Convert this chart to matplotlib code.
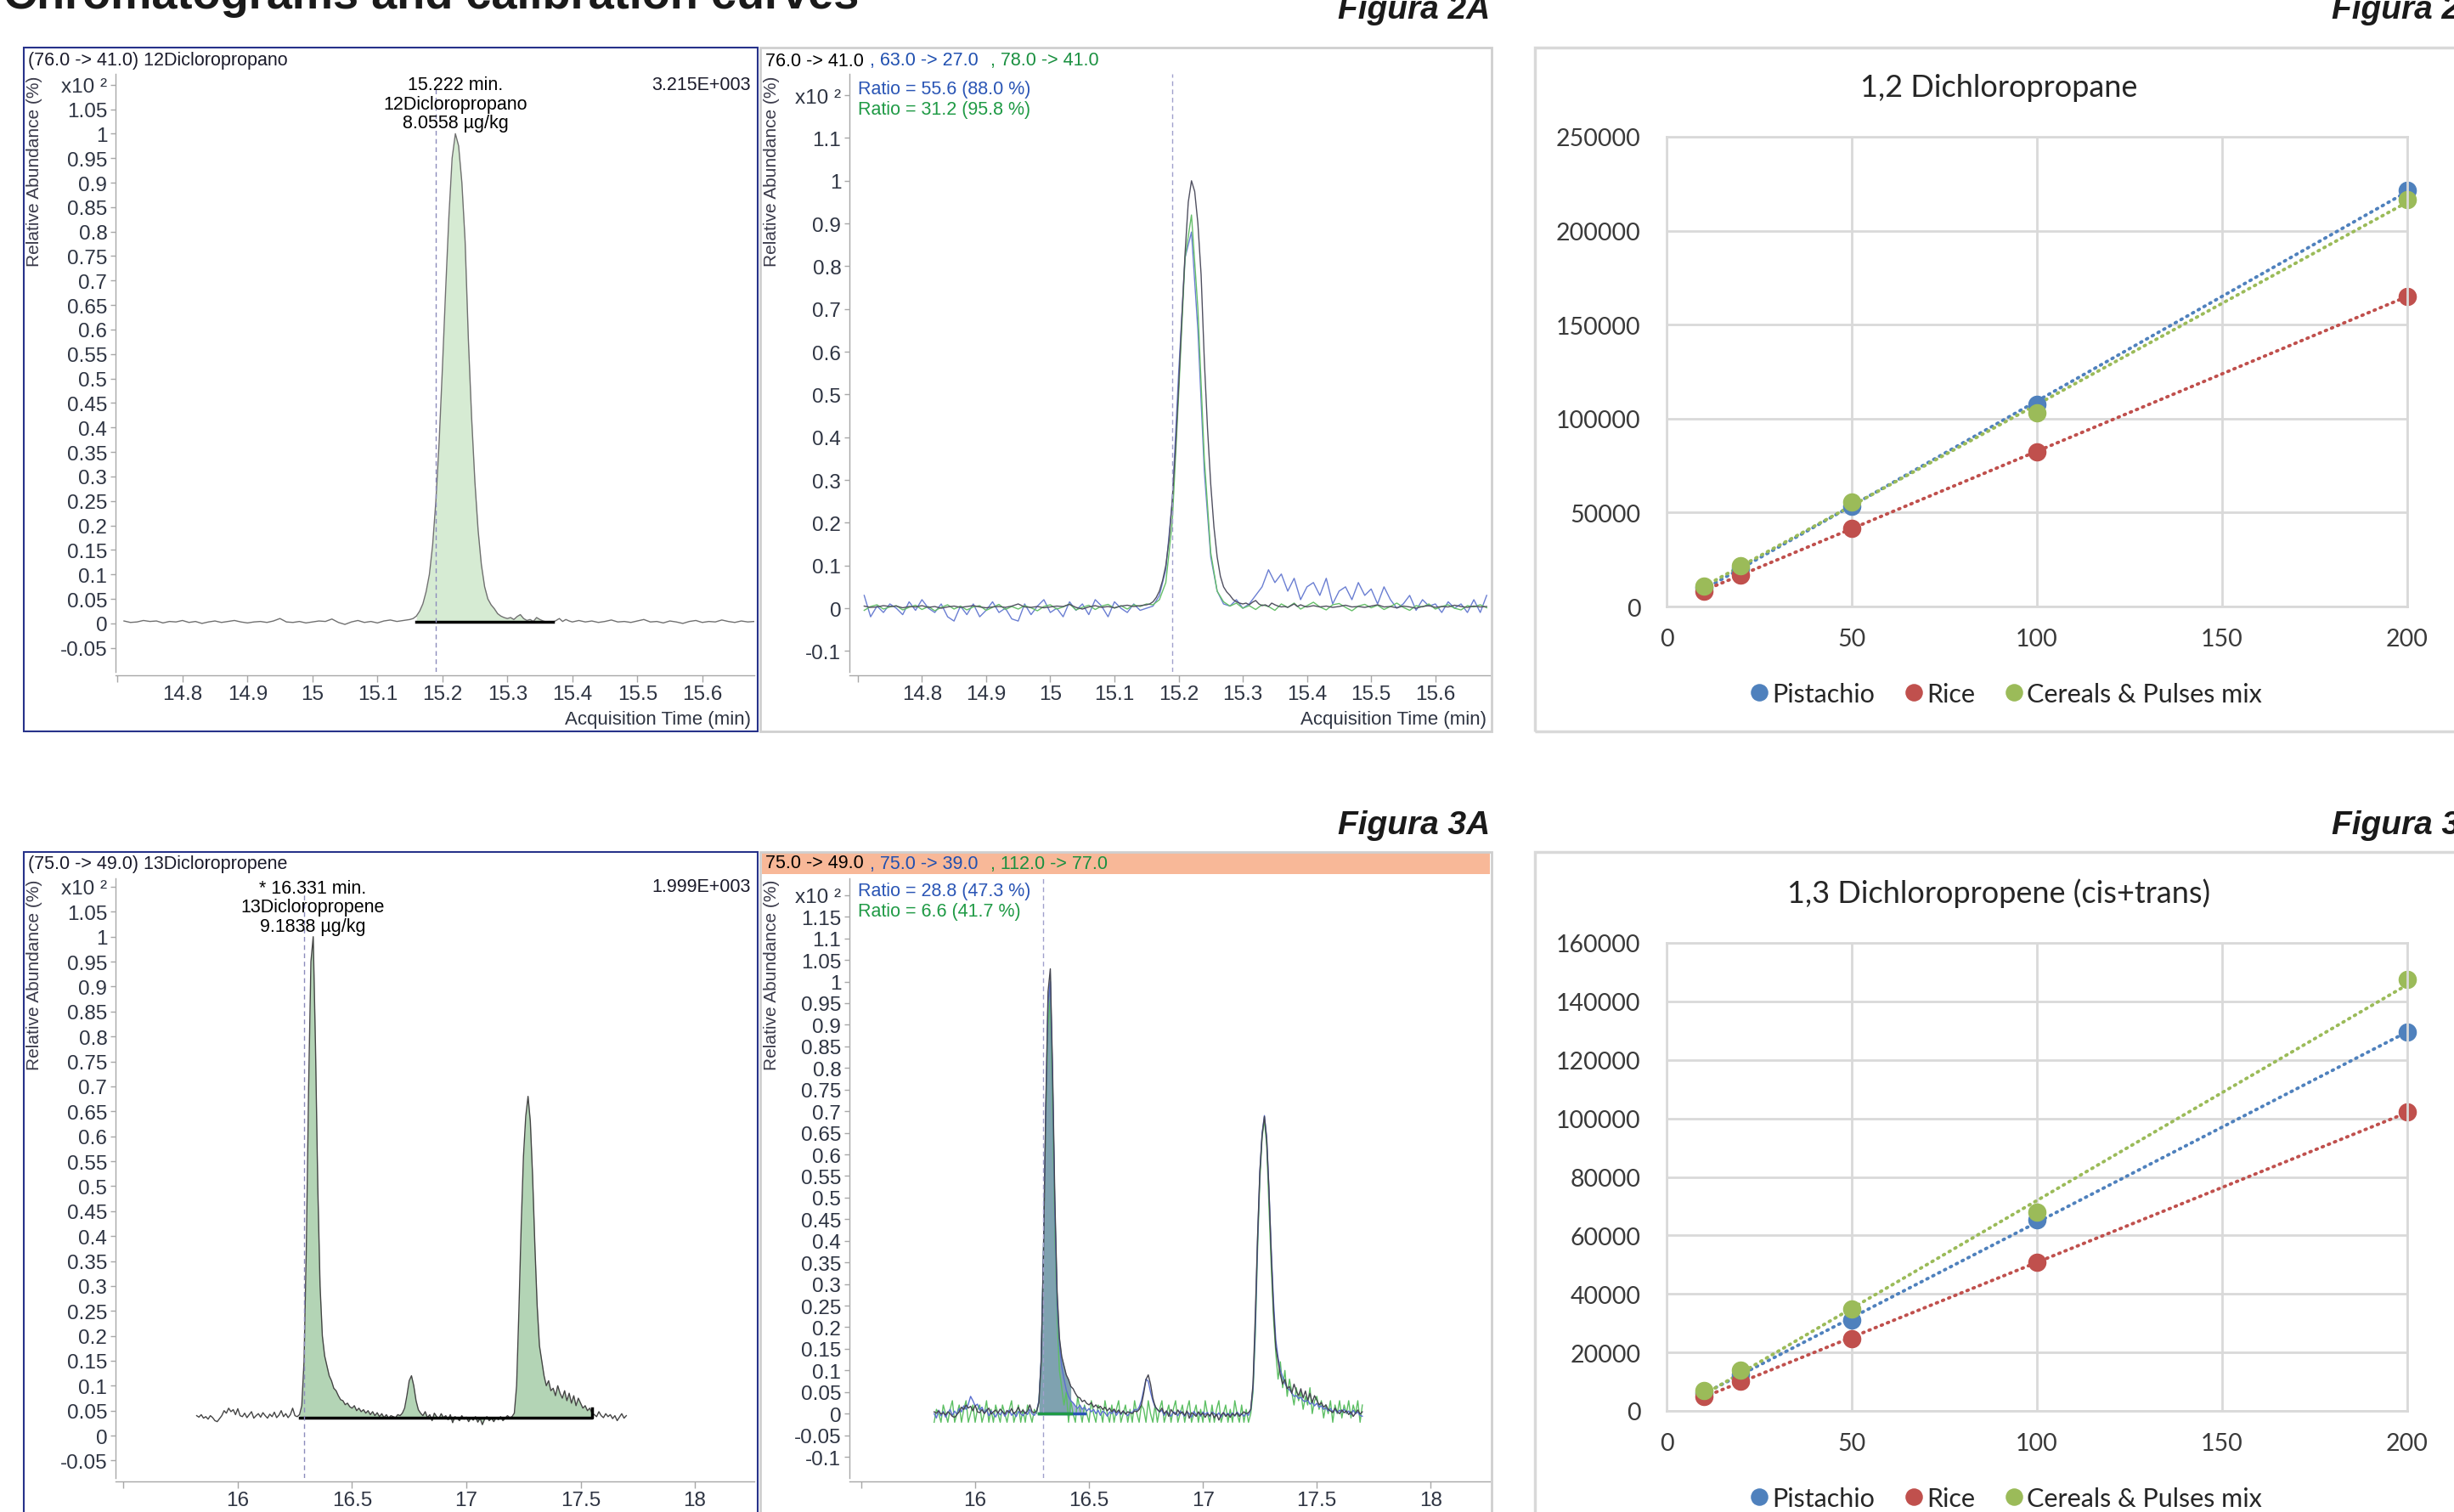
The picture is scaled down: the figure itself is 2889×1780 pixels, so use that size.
import numpy as np
import matplotlib
matplotlib.use("Agg")
import matplotlib.pyplot as plt
from matplotlib.patches import Rectangle

W, H = 2889, 1781
NARROW = ['Liberation Sans Narrow', 'Liberation Sans', 'DejaVu Sans']
CALI = ['Lato', 'DejaVu Sans']

# ---- calibration curves (area vs concentration, ug/kg) ----
conc = [10, 20, 50, 100, 200]
dcp12_pistachio = [10000, 20500, 53300, 107500, 221700]
dcp12_rice = [8300, 16700, 41700, 82500, 165000]
dcp12_cereals = [10800, 21700, 55800, 103300, 216700]
dcp13_pistachio = [6000, 12500, 31000, 65200, 129400]
dcp13_rice = [4800, 10200, 24600, 50800, 102100]
dcp13_cereals = [6950, 13900, 34800, 67900, 147600]
series_names = ['Pistachio', 'Rice', 'Cereals & Pulses mix']
series_colors = ['#4F81BD', '#C0504D', '#9BBB59']

# ---- chromatogram 2A: 1,2-dichloropropane (x10^2 relative abundance) ----
q2a_pre = [0.005, 0.002, 0.003, 0.006, 0.004, 0.005, 0.001, 0.004, 0.003, 0.006,
           0.002, 0.004, 0.000, 0.003, 0.005, 0.002, 0.004, 0.006, 0.003, 0.001,
           0.003, 0.004, 0.002, 0.005, 0.010, 0.003, 0.002, 0.004, 0.001, 0.003,
           0.005, 0.004, 0.009, 0.002, -0.002, 0.003, 0.006, 0.002, 0.004, 0.001,
           0.005, 0.007, 0.004, 0.006, 0.008]            # 14.71 - 15.15
q2a_peak = [0.010, 0.015, 0.025, 0.040, 0.065, 0.100, 0.160, 0.250, 0.370, 0.520,
            0.680, 0.830, 0.950, 1.000, 0.975, 0.900, 0.780, 0.580, 0.420, 0.290,
            0.190, 0.120, 0.075, 0.050, 0.038, 0.030, 0.020, 0.015, 0.012, 0.010,
            0.012, 0.008, 0.014, 0.018, 0.010, 0.006, 0.008, 0.004, 0.012, 0.008,
            0.005, 0.003, 0.004, 0.002, 0.006, 0.010, 0.004, 0.008, 0.005, 0.003]  # 15.155 - 15.400
q2a_post = [0.006, 0.003, 0.005, 0.002, 0.004, 0.007, 0.003, 0.004, 0.002, 0.005,
            0.008, 0.003, 0.004, 0.001, 0.005, 0.003, 0.000, 0.004, 0.006, 0.002,
            0.004, 0.003, 0.007, 0.004, 0.002, 0.005, 0.003, 0.004]  # 15.41 - 15.68
green2a = [-0.005, 0.004, 0.008, -0.002, 0.003, 0.006, -0.004, 0.002, 0.007, -0.003,
           0.004, -0.006, 0.002, 0.008, -0.002, 0.005, -0.004, 0.003, 0.006, -0.005,
           0.002, 0.009, -0.003, 0.004, -0.002, 0.006, 0.001, -0.006, 0.004, 0.008,
           -0.002, 0.003, 0.010, -0.004, 0.002, 0.007, -0.003, 0.005, 0.009, 0.000,
           0.006, -0.002, 0.008, 0.004, 0.010,
           0.008, 0.020, 0.060, 0.200, 0.500, 0.820, 0.920, 0.700, 0.350, 0.130,
           0.040, 0.015, 0.005, 0.012, 0.000,
           0.006, -0.003, 0.008, 0.004, -0.005, 0.010, 0.002, 0.012, -0.002, 0.006,
           0.014, 0.003, -0.004, 0.008, 0.011, 0.002, -0.006, 0.005, 0.009, 0.001,
           0.007, -0.003, 0.004, 0.012, 0.002, -0.005, 0.006, 0.003, 0.010, -0.002,
           0.004, 0.008, 0.000, -0.004, 0.006, 0.003, 0.008, 0.001]  # 14.71 - 15.68
blue2a = [0.030, -0.020, 0.005, -0.010, 0.010, 0.000, -0.015, 0.015, -0.005, 0.020,
          0.000, -0.010, 0.010, -0.020, -0.030, 0.005, -0.015, 0.010, -0.020, -0.005,
          0.015, -0.010, 0.000, -0.025, -0.030, 0.010, -0.015, 0.005, 0.020, -0.010,
          0.000, -0.020, 0.015, -0.005, 0.010, -0.015, 0.020, 0.005, -0.020, 0.015,
          0.000, -0.010, 0.010, -0.005, 0.000,
          0.005, 0.030, 0.090, 0.250, 0.550, 0.820, 0.880, 0.650, 0.320, 0.120,
          0.040, 0.010, 0.005, 0.020, 0.000,
          0.010, 0.030, 0.050, 0.090, 0.060, 0.080, 0.040, 0.070, 0.020, 0.050,
          0.060, 0.030, 0.070, 0.010, 0.040, 0.050, 0.020, 0.060, 0.030, 0.045,
          0.010, 0.050, 0.020, 0.000, 0.010, 0.030, -0.005, 0.020, 0.005, 0.010,
          -0.010, 0.015, 0.000, 0.010, -0.010, 0.020, -0.010, 0.030]  # 14.71 - 15.68

# ---- chromatogram 3A: 1,3-dichloropropene, 15.82 - 17.70 min every 0.01 ----
q3a = [0.040, 0.037, 0.042, 0.035, 0.038, 0.033, 0.040, 0.036, 0.030, 0.028,
       0.034, 0.040, 0.050, 0.045, 0.055, 0.048, 0.052, 0.042, 0.054, 0.040,
       0.038, 0.045, 0.036, 0.042, 0.048, 0.035, 0.040, 0.044, 0.037, 0.046,
       0.040, 0.035, 0.043, 0.038, 0.047, 0.036, 0.041, 0.050, 0.038, 0.044,
       0.036, 0.042, 0.055, 0.040, 0.038, 0.042, 0.060, 0.150, 0.380, 0.700,
       0.950, 1.000, 0.780, 0.500, 0.300, 0.200, 0.160, 0.140, 0.120, 0.110,
       0.095, 0.090, 0.080, 0.072, 0.070, 0.062, 0.065, 0.058, 0.055, 0.060,
       0.050, 0.055, 0.048, 0.052, 0.045, 0.050, 0.042, 0.048, 0.040, 0.046,
       0.038, 0.044, 0.036, 0.042, 0.035, 0.040, 0.038, 0.036, 0.042, 0.040,
       0.045, 0.055, 0.080, 0.110, 0.120, 0.100, 0.070, 0.052, 0.045, 0.040,
       0.048, 0.036, 0.042, 0.030, 0.045, 0.038, 0.034, 0.044, 0.036, 0.040,
       0.032, 0.042, 0.026, 0.038, 0.035, 0.030, 0.040, 0.033, 0.037, 0.028,
       0.036, 0.031, 0.038, 0.027, 0.035, 0.022, 0.033, 0.038, 0.030, 0.035,
       0.028, 0.036, 0.032, 0.038, 0.030, 0.035, 0.040, 0.036, 0.038, 0.045,
       0.100, 0.250, 0.420, 0.560, 0.640, 0.680, 0.630, 0.520, 0.380, 0.260,
       0.180, 0.150, 0.120, 0.100, 0.110, 0.090, 0.095, 0.080, 0.100, 0.085,
       0.075, 0.090, 0.070, 0.085, 0.065, 0.080, 0.060, 0.075, 0.065, 0.055,
       0.060, 0.050, 0.055, 0.045, 0.042, 0.038, 0.048, 0.040, 0.036, 0.044,
       0.038, 0.042, 0.034, 0.040, 0.030, 0.037, 0.044, 0.035, 0.040]
blue3a = [0.000, -0.010, 0.008, -0.005, 0.005, -0.008, 0.002, 0.010, -0.004, 0.006,
          -0.002, 0.012, 0.004, 0.018, 0.010, 0.022, 0.040, 0.030, 0.018, 0.022,
          0.008, 0.015, 0.002, 0.010, -0.005, 0.006, 0.000, -0.008, 0.004, -0.003,
          0.006, -0.006, 0.002, 0.008, -0.004, 0.003, -0.007, 0.005, 0.000, -0.005,
          0.004, -0.002, 0.010, 0.000, -0.004, 0.006, 0.030, 0.130, 0.380, 0.700,
          0.950, 1.000, 0.760, 0.460, 0.250, 0.160, 0.110, 0.080, 0.055, 0.040,
          0.030, 0.025, 0.018, 0.012, 0.020, 0.010, 0.015, 0.006, 0.012, 0.004,
          0.010, 0.000, 0.008, -0.004, 0.006, 0.002, -0.006, 0.004, 0.000, 0.008,
          -0.004, 0.005, -0.002, 0.006, 0.000, -0.005, 0.004, 0.002, 0.010, 0.008,
          0.015, 0.030, 0.055, 0.080, 0.075, 0.050, 0.030, 0.015, 0.010, 0.004,
          0.008, -0.004, 0.006, 0.000, -0.006, 0.004, 0.002, -0.005, 0.006, 0.000,
          -0.006, 0.004, 0.000, -0.008, 0.005, -0.003, 0.002, -0.006, 0.004, -0.002,
          0.003, -0.007, 0.004, 0.000, -0.005, 0.002, -0.008, 0.003, -0.004, 0.001,
          -0.005, 0.002, -0.006, 0.004, -0.003, 0.000, -0.006, 0.002, -0.004, 0.010,
          0.060, 0.200, 0.400, 0.560, 0.650, 0.690, 0.640, 0.520, 0.380, 0.260,
          0.170, 0.130, 0.100, 0.085, 0.070, 0.060, 0.055, 0.048, 0.040, 0.042,
          0.035, 0.038, 0.030, 0.028, 0.032, 0.022, 0.026, 0.018, 0.024, 0.015,
          0.018, 0.010, 0.014, 0.006, 0.012, 0.004, 0.010, 0.002, 0.008, 0.004,
          0.010, 0.002, 0.006, -0.002, 0.008, 0.000, 0.004, -0.004, -0.006]
green3a = [-0.020, 0.010, 0.000, -0.020, 0.020, 0.000, -0.020, 0.010, 0.030, -0.020,
           0.000, 0.020, -0.020, 0.010, 0.030, -0.020, 0.000, 0.020, -0.020, 0.010,
           0.020, -0.020, 0.000, 0.030, -0.020, 0.010, -0.020, 0.020, 0.000, -0.020,
           0.020, 0.000, -0.020, 0.010, 0.030, -0.020, 0.000, 0.020, -0.020, 0.010,
           -0.020, 0.020, 0.000, -0.020, 0.010, 0.000, 0.030, 0.120, 0.380, 0.680,
           0.900, 0.960, 0.700, 0.420, 0.220, 0.100, 0.060, 0.020, 0.050, -0.020,
           0.030, 0.000, -0.020, 0.040, 0.010, -0.020, 0.020, 0.000, -0.020, 0.030,
           0.000, -0.020, 0.020, 0.010, -0.020, 0.030, 0.000, -0.020, 0.020, -0.020,
           0.010, 0.030, -0.020, 0.000, 0.020, -0.020, 0.010, -0.020, 0.030, 0.000,
           -0.020, 0.020, 0.010, -0.020, 0.030, 0.000, -0.020, 0.020, -0.020, 0.010,
           0.030, -0.020, 0.000, 0.020, -0.020, 0.010, 0.030, -0.020, 0.000, 0.020,
           -0.020, 0.010, 0.030, -0.020, 0.000, 0.020, -0.020, 0.010, -0.020, 0.030,
           0.000, -0.020, 0.020, -0.020, 0.010, 0.030, -0.020, 0.000, 0.020, -0.020,
           0.010, -0.020, 0.030, 0.000, -0.020, 0.020, -0.020, 0.010, -0.020, 0.000,
           0.050, 0.180, 0.380, 0.540, 0.640, 0.680, 0.620, 0.480, 0.340, 0.220,
           0.140, 0.080, 0.120, 0.060, 0.100, 0.040, 0.080, 0.050, 0.020, 0.060,
           0.030, 0.050, 0.010, 0.040, 0.020, 0.060, 0.000, 0.030, 0.040, 0.010,
           0.030, -0.010, 0.020, 0.000, 0.030, -0.020, 0.020, 0.000, 0.030, -0.010,
           0.020, 0.000, 0.030, -0.010, 0.020, 0.000, 0.030, -0.020, 0.020]
q3a_baseline = 0.036      # integration baseline of the quantifier trace
q3a_norm = 1.068          # renormalisation used in the qualifier overlay

t2a = np.concatenate([np.arange(1471, 1516) / 100, np.arange(15155, 15401, 5) / 1000,
                      np.arange(1541, 1569) / 100])
q2a = np.array(q2a_pre + q2a_peak + q2a_post)
t2a_q = np.arange(1471, 1569) / 100
t3a = np.arange(1582, 1771) / 100
q3a = np.array(q3a)

fig = plt.figure(figsize=(W / 100, H / 100), dpi=100)

TXT = 15.5   # chromatogram annotation size


def fbox(x0, y0, x1, y1):
    return [x0 / W, 1 - y1 / H, (x1 - x0) / W, (y1 - y0) / H]


def ftext(x, y, s, **kw):
    kw.setdefault('family', NARROW)
    return fig.text(x / W, 1 - y / H, s, **kw)


def frame(x0, y0, x1, y1, color, lw, face='none'):
    fig.add_artist(Rectangle((x0 / W, 1 - y1 / H), (x1 - x0) / W, (y1 - y0) / H,
                             transform=fig.transFigure, fc=face, ec=color, lw=lw))


def chrom_axes(box, xlim, ylim, yticks, top_tick, xticks):
    ax = fig.add_axes(fbox(*box))
    ax.patch.set_alpha(0)
    ax.set_xlim(xlim)
    ax.set_ylim(ylim)
    for s in ['top', 'right']:
        ax.spines[s].set_visible(False)
    for s in ['left', 'bottom']:
        ax.spines[s].set_color('#a8a8a8')
        ax.spines[s].set_linewidth(1.0)
    ax.spines['bottom'].set_position(('outward', 3))
    ax.set_yticks(list(yticks) + [top_tick], [f'{v:g}' for v in yticks] + ['x10 ²'])
    ax.set_xticks(xticks, [''] + [f'{v:g}' for v in xticks[1:]])
    ax.tick_params(colors='#a8a8a8', labelcolor='#2e3442', labelsize=17.5, length=4, width=1)
    ax.tick_params(axis='x', length=6, pad=2)
    ax.tick_params(axis='y', pad=3)
    for lab in ax.get_xticklabels() + ax.get_yticklabels():
        lab.set_family(NARROW)
    return ax


def ylabel(x, y_top):
    ftext(x, y_top, 'Relative Abundance (%)', size=15, rotation=90, va='top', ha='center',
          color='#3a3a4a')


# ---- page titles ----
ftext(4, 10, 'Chromatograms and calibration curves', family=['Liberation Sans', 'DejaVu Sans'],
      weight='bold', size=39, va='baseline', color='#1a1a1a')
for y, lab in [(22, 'Figura 2A'), (982, 'Figura 3A')]:
    ftext(1754, y, lab, weight='bold', style='italic', size=28, ha='right', va='baseline', color='#1a1a1a')
for y, lab in [(22, 'Figura 2B'), (982, 'Figura 3B')]:
    ftext(2745, y, lab, weight='bold', style='italic', size=28, ha='left', va='baseline', color='#1a1a1a')

# ---- panel frames ----
frame(28, 57, 892, 862, '#27328a', 1.5)
frame(895, 57, 1756, 862, '#cfcfcf', 2)
frame(28, 1004, 892, 1810, '#27328a', 1.5)
frame(897, 1005, 1754, 1030, 'none', 0, face='#f8b898')
frame(895, 1004, 1756, 1810, '#cfcfcf', 2)
frame(1807, 57, 2910, 862, '#d9d9d9', 2.5)
frame(1807, 1004, 2910, 1810, '#d9d9d9', 2.5)

yt_a = np.round(np.arange(-0.05, 1.051, 0.05), 2)
yt_b = np.round(np.arange(-0.1, 1.101, 0.1), 1)
yt_c = np.round(np.arange(-0.1, 1.151, 0.05), 2)
xt_2 = np.round(np.arange(14.7, 15.61, 0.1), 1)
xt_3 = np.arange(15.5, 18.01, 0.5)
dash = (0, (4, 3))

# ---- 2A quantifier ----
ax = chrom_axes((136, 88, 888, 792), (14.697, 15.680), (-0.099, 1.122), yt_a, 1.1, xt_2)
m = (t2a >= 15.16) & (t2a <= 15.37)
ax.fill_between(t2a[m], q2a[m], 0.003, color='#d6ebd3', lw=0)
ax.plot(t2a, q2a, color='#707070', lw=1.0)
ax.plot([15.16, 15.37], [0.003, 0.003], color='black', lw=2.5)
ax.plot([15.19, 15.19], [-0.099, 1.09], color='#8c8cbc', lw=1, ls=dash)
ftext(33, 72, '(76.0 -> 41.0) 12Dicloropropano', size=TXT, va='center', color='#1a1a2a')
ftext(884, 100, '3.215E+003', size=TXT, va='center', ha='right', color='#1a1a2a')
for y, s in [(101, '15.222 min.'), (123, '12Dicloropropano'), (146, '8.0558 µg/kg')]:
    ftext(536, y, s, size=TXT, va='center', ha='center', color='black')
ylabel(41, 90)
ftext(884, 848, 'Acquisition Time (min)', size=16, va='center', ha='right', color='#2e3442')

# ---- 2A qualifiers ----
ax = chrom_axes((1000, 88, 1754, 792), (14.687, 15.685), (-0.149, 1.25), yt_b, 1.2, xt_2)
ax.plot(t2a_q, blue2a, color='#6a7ed2', lw=1.0)
ax.plot(t2a_q, green2a, color='#66bf6a', lw=1.0)
ax.plot(t2a, q2a, color='#505060', lw=1.0)
ax.plot([15.19, 15.19], [-0.149, 1.25], color='#a0a0cc', lw=1, ls=dash)
ftext(901, 72, '76.0 -> 41.0', size=TXT, va='center', color='black')
ftext(1024, 72, ', 63.0 -> 27.0', size=TXT, va='center', color='#2050b0')
ftext(1166, 72, ', 78.0 -> 41.0', size=TXT, va='center', color='#1a9040')
ftext(1010, 105, 'Ratio = 55.6 (88.0 %)', size=TXT, va='center', color='#2a55b5')
ftext(1010, 129, 'Ratio = 31.2 (95.8 %)', size=TXT, va='center', color='#1f9a45')
ylabel(909, 90)
ftext(1750, 848, 'Acquisition Time (min)', size=16, va='center', ha='right', color='#2e3442')

# ---- 3A quantifier ----
ax = chrom_axes((136, 1035, 888, 1741), (15.465, 18.26), (-0.085, 1.117), yt_a, 1.1, xt_3)
m = (t3a >= 16.27) & (t3a <= 17.55)
ax.fill_between(t3a[m], q3a[m], q3a_baseline, color='#b3d4b5', lw=0)
ax.plot(t3a, q3a, color='#454545', lw=1.0)
ax.plot([16.27, 17.55, 17.55], [q3a_baseline, q3a_baseline, 0.055], color='black', lw=2.5)
ax.plot([16.29, 16.29], [-0.085, 1.09], color='#8c8cbc', lw=1, ls=dash)
ftext(33, 1017, '(75.0 -> 49.0) 13Dicloropropene', size=TXT, va='center', color='#1a1a2a')
ftext(884, 1045, '1.999E+003', size=TXT, va='center', ha='right', color='#1a1a2a')
for y, s in [(1047, '* 16.331 min.'), (1069, '13Dicloropropene'), (1091, '9.1838 µg/kg')]:
    ftext(368, y, s, size=TXT, va='center', ha='center', color='black')
ylabel(41, 1036)

# ---- 3A qualifiers ----
ax = chrom_axes((1000, 1035, 1754, 1741), (15.448, 18.26), (-0.149, 1.239), yt_c, 1.2, xt_3)
black3a = (q3a - q3a_baseline) * q3a_norm
m = (t3a >= 16.28) & (t3a <= 16.42)
ax.fill_between(t3a[m], black3a[m], 0, color='#7fa2b0', lw=0)
m = (t3a >= 16.42) & (t3a <= 16.48)
ax.fill_between(t3a[m], np.array(blue3a)[m], 0, color='#a9b4dc', lw=0)
ax.plot(t3a, green3a, color='#5cbf63', lw=1.0)
ax.plot(t3a, blue3a, color='#5a6fd0', lw=1.0)
ax.plot(t3a, black3a, color='#454550', lw=1.0)
ax.plot([16.28, 16.48], [0, 0], color='#2a55b5', lw=2.5)
ax.plot([16.28, 16.42], [0, 0], color='#1f9a45', lw=2.5)
ax.plot([16.30, 16.30], [-0.149, 1.239], color='#a0a0cc', lw=1, ls=dash)
ftext(901, 1017, '75.0 -> 49.0', size=TXT, va='center', color='black')
ftext(1024, 1017, ', 75.0 -> 39.0', size=TXT, va='center', color='#2050b0')
ftext(1166, 1017, ', 112.0 -> 77.0', size=TXT, va='center', color='#1a9040')
ftext(1010, 1050, 'Ratio = 28.8 (47.3 %)', size=TXT, va='center', color='#2a55b5')
ftext(1010, 1074, 'Ratio = 6.6 (41.7 %)', size=TXT, va='center', color='#1f9a45')
ylabel(909, 1036)


# ---- calibration curves ----
def cal_axes(box, ymax, ystep, title, title_y, legend_y, data):
    ax = fig.add_axes(fbox(*box))
    ax.set_xlim(0, 200)
    ax.set_ylim(0, ymax)
    ax.set_xticks(range(0, 201, 50))
    ax.set_yticks(range(0, ymax + 1, ystep))
    ax.grid(True, color='#d9d9d9', lw=2)
    ax.set_axisbelow(True)
    for s in ax.spines.values():
        s.set_color('#d9d9d9')
        s.set_linewidth(2)
    ax.tick_params(length=0, labelsize=20.5, labelcolor='#3a3a3a')
    ax.tick_params(axis='x', pad=18)
    ax.tick_params(axis='y', pad=22)
    for lab in ax.get_xticklabels() + ax.get_yticklabels():
        lab.set_family(CALI)
    handles = []
    for vals, name, color in zip(data, series_names, series_colors):
        coef = np.polyfit(conc, vals, 1)
        xs = np.array([conc[0], conc[-1]])
        ax.plot(xs, np.polyval(coef, xs), color=color, lw=2.8, ls=(0, (0.4, 1.6)),
                dash_capstyle='round')
    for vals, name, color in zip(data, series_names, series_colors):
        h, = ax.plot(conc, vals, 'o', color=color, ms=14.5, label=name, clip_on=False)
        handles.append(h)
    ftext(2353, title_y, title, family=CALI, size=26, ha='center', va='center', color='#262626')
    fig.legend(handles=handles, loc='center', bbox_to_anchor=(2358 / W, 1 - legend_y / H),
               ncol=3, frameon=False, prop={'family': CALI, 'size': 22},
               handletextpad=-0.1, columnspacing=0.9, markerscale=0.95, handlelength=1.2,
               labelcolor='#262626')


cal_axes((1962, 162, 2834, 715), 250000, 50000, '1,2 Dichloropropane', 103, 818,
         [dcp12_pistachio, dcp12_rice, dcp12_cereals])
cal_axes((1962, 1111, 2834, 1662), 160000, 20000, '1,3 Dichloropropene (cis+trans)', 1052, 1765,
         [dcp13_pistachio, dcp13_rice, dcp13_cereals])

fig.savefig('out.png', dpi=100)
